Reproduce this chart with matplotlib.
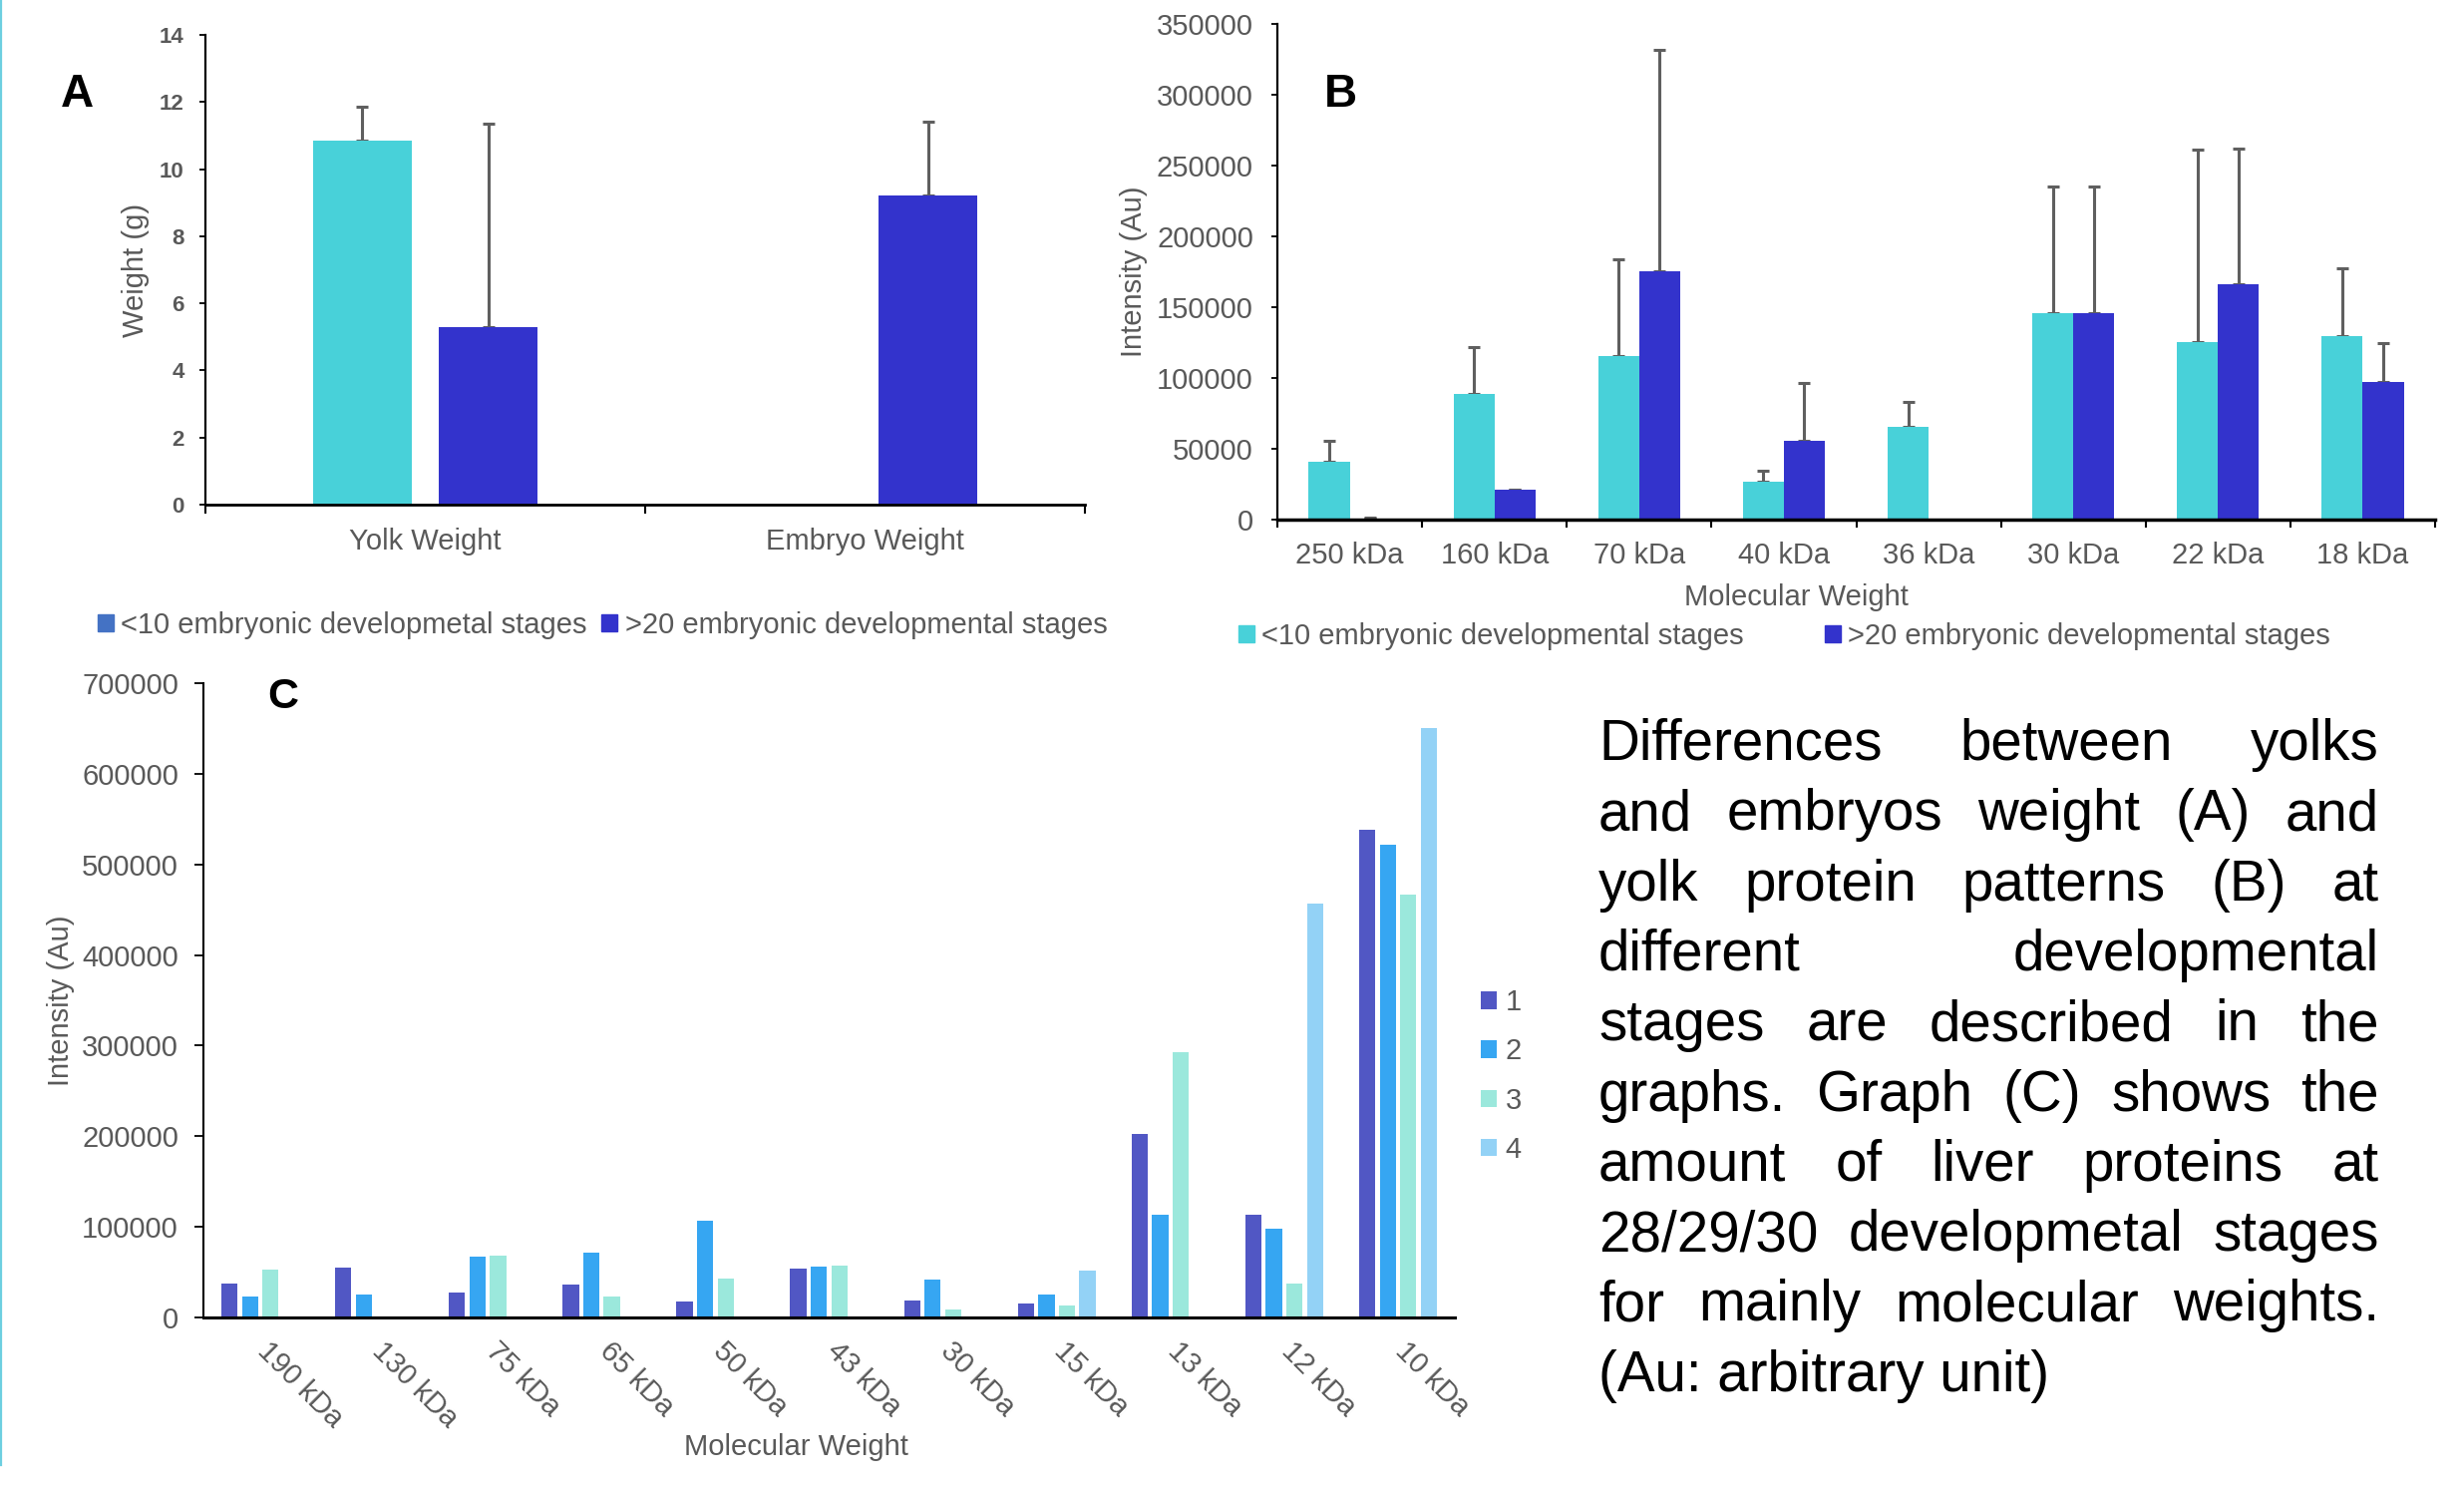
import matplotlib
matplotlib.use("Agg")
import matplotlib.pyplot as plt
import matplotlib.transforms as mtransforms
import numpy as np
from matplotlib.patches import Patch
from matplotlib.lines import Line2D

plt.rcParams['font.family'] = ['Liberation Sans', 'DejaVu Sans']

GRAY = '#595959'
CYAN = '#48D1D9'
BLUE = '#3333CC'
ERR = '#5F5F5F'

# ---- Panel A: yolk and embryo weight ----
weight_groups = ["Yolk Weight", "Embryo Weight"]
weight_early = [10.85, 0.0]
weight_early_err = [1.0, 0.0]
weight_late = [5.3, 9.2]
weight_late_err = [6.05, 2.2]
weight_yticks = [0, 2, 4, 6, 8, 10, 12, 14]

# ---- Panel B: yolk protein bands ----
yolk_bands = ["250 kDa", "160 kDa", "70 kDa", "40 kDa", "36 kDa", "30 kDa", "22 kDa", "18 kDa"]
yolk_early = [40900, 88600, 115700, 26600, 65700, 145700, 125500, 129800]
yolk_early_err = [14400, 32900, 67800, 8200, 17700, 89800, 135600, 47600]
yolk_late = [900, 20800, 175600, 55300, 0, 146000, 166400, 97400]
yolk_late_err = [600, 600, 155800, 41500, 0, 88900, 95300, 27200]
yolk_yticks = [0, 50000, 100000, 150000, 200000, 250000, 300000, 350000]

# ---- Panel C: liver protein bands ----
liver_bands = ["190 kDa", "130 kDa", "75 kDa", "65 kDa", "50 kDa", "43 kDa",
               "30 kDa", "15 kDa", "13 kDa", "12 kDa", "10 kDa"]
liver_s1 = [37900, 54800, 27400, 36700, 17500, 54200, 18700, 15700, 202800, 113700, 538500]
liver_s2 = [23300, 25600, 67000, 71700, 107200, 56500, 41400, 25100, 113700, 98500, 522200]
liver_s3 = [53000, 0, 68200, 22700, 42500, 57700, 8700, 12800, 292600, 37300, 466300]
liver_s4 = [0, 0, 0, 0, 0, 0, 0, 51300, 0, 457000, 650500]
liver_series = ["1", "2", "3", "4"]
liver_colors = ['#5157C4', '#36A6F2', '#9BE8DC', '#93D2F6']
liver_yticks = [0, 100000, 200000, 300000, 400000, 500000, 600000, 700000]

caption_lines = [
    "Differences between yolks",
    "and embryos weight (A) and",
    "yolk protein patterns (B) at",
    "different developmental",
    "stages are described in the",
    "graphs. Graph (C) shows the",
    "amount of liver proteins at",
    "28/29/30 developmetal stages",
    "for mainly molecular weights.",
    "(Au: arbitrary unit)",
]

W, H = 2471, 1494
fig = plt.figure(figsize=(W / 100, H / 100), dpi=100)


def px_axes(left, top, right, bottom):
    return fig.add_axes([left / W, 1 - bottom / H, (right - left) / W, (bottom - top) / H])


def upper_errors(ax, x, y, err):
    x = np.asarray(x, float)
    y = np.asarray(y, float)
    err = np.asarray(err, float)
    m = err > 0
    ax.errorbar(x[m], y[m], yerr=[np.zeros(m.sum()), err[m]], fmt='none',
                ecolor=ERR, elinewidth=2.2, capsize=4.3, capthick=2.2, zorder=1)


def style_spines(ax, xw, yw):
    for s in ('top', 'right'):
        ax.spines[s].set_visible(False)
    ax.spines['bottom'].set_linewidth(xw)
    ax.spines['left'].set_linewidth(yw)
    ax.spines['bottom'].set_zorder(3)


# ---------------- Panel A ----------------
axA = px_axes(206, 35, 1088, 506)
xa = np.arange(len(weight_groups)) + 0.5
wA = 0.2245
offA = 0.143
axA.bar(xa - offA, weight_early, wA, color=CYAN, zorder=2)
axA.bar(xa + offA, weight_late, wA, color=BLUE, zorder=2)
upper_errors(axA, xa - offA, weight_early, weight_early_err)
upper_errors(axA, xa + offA, weight_late, weight_late_err)
axA.set_xlim(0, len(weight_groups))
axA.set_ylim(0, 14)
axA.set_yticks(weight_yticks)
axA.set_yticklabels([str(v) for v in weight_yticks], fontsize=16, fontweight='bold', color=GRAY)
axA.tick_params(axis='y', length=4.3, width=1.3, pad=11, direction='out')
axA.set_xticks(np.arange(len(weight_groups) + 1))
axA.set_xticklabels([])
axA.tick_params(axis='x', which='major', length=6.5, width=1.5, direction='out')
axA.set_xticks(xa, minor=True)
axA.set_xticklabels(weight_groups, minor=True, fontsize=21, color=GRAY)
axA.tick_params(axis='x', which='minor', length=0, pad=16.5)
axA.set_ylabel("Weight (g)", fontsize=21, color=GRAY, va='center')
axA.yaxis.set_label_coords(-0.0794, 0.5)
style_spines(axA, 2.0, 1.6)
axA.legend(handles=[Patch(color='#4472C4', label='<10 embryonic developmetal stages'),
                    Patch(color=BLUE, label='>20 embryonic developmental stages')],
           loc='center left', bbox_to_anchor=(98 / W, 1 - 627 / H),
           bbox_transform=fig.transFigure, ncol=2, frameon=False, fontsize=21,
           labelcolor=GRAY, handlelength=0.55, handleheight=0.55,
           handletextpad=0.25, columnspacing=0.5, borderpad=0, borderaxespad=0)

# ---------------- Panel B ----------------
axB = px_axes(1281, 24, 2442, 521)
xb = np.arange(len(yolk_bands)) + 0.5
wB = 0.283
offB = 0.1415
axB.bar(xb - offB, yolk_early, wB, color=CYAN, zorder=2)
axB.bar(xb + offB, yolk_late, wB, color=BLUE, zorder=2)
upper_errors(axB, xb - offB, yolk_early, yolk_early_err)
upper_errors(axB, xb + offB, yolk_late, yolk_late_err)
axB.set_xlim(0, len(yolk_bands))
axB.set_ylim(0, 350000)
axB.set_yticks(yolk_yticks)
axB.set_yticklabels([str(v) for v in yolk_yticks], fontsize=21, color=GRAY)
axB.tick_params(axis='y', length=4.3, width=1.3, pad=13, direction='out')
axB.set_xticks(np.arange(len(yolk_bands) + 1))
axB.set_xticklabels([])
axB.tick_params(axis='x', which='major', length=5.8, width=1.5, direction='out')
axB.set_xticks(xb, minor=True)
axB.set_xticklabels(yolk_bands, minor=True, fontsize=21, color=GRAY)
axB.tick_params(axis='x', which='minor', length=0, pad=16)
axB.set_ylabel("Intensity (Au)", fontsize=21, color=GRAY, va='center')
axB.yaxis.set_label_coords(-0.124, 0.5)
axB.set_xlabel("Molecular Weight", fontsize=21, color=GRAY, va='center')
axB.xaxis.set_label_coords(0.448, -0.157)
style_spines(axB, 2.5, 1.6)
axB.legend(handles=[Patch(color=CYAN, label='<10 embryonic developmental stages'),
                    Patch(color=BLUE, label='>20 embryonic developmental stages')],
           loc='center left', bbox_to_anchor=(1242 / W, 1 - 638 / H),
           bbox_transform=fig.transFigure, ncol=2, frameon=False, fontsize=21,
           labelcolor=GRAY, handlelength=0.55, handleheight=0.55,
           handletextpad=0.24, columnspacing=2.8, borderpad=0, borderaxespad=0)

# ---------------- Panel C ----------------
axC = px_axes(204, 685, 1459, 1321)
xc = np.arange(len(liver_bands)) + 0.5
wC = 0.143
stepC = 0.1805
for i, (vals, col, name) in enumerate(zip([liver_s1, liver_s2, liver_s3, liver_s4],
                                          liver_colors, liver_series)):
    axC.bar(xc + (i - 1.5) * stepC, vals, wC, color=col, label=name, zorder=2)
axC.set_xlim(0, len(liver_bands))
axC.set_ylim(0, 700000)
axC.set_yticks(liver_yticks)
axC.set_yticklabels([str(v) for v in liver_yticks], fontsize=21, color=GRAY)
axC.tick_params(axis='y', length=6.5, width=1.3, pad=11.5, direction='out')
axC.set_xticks(xc)
axC.set_xticklabels(liver_bands, fontsize=21, color=GRAY, rotation=-45,
                    ha='left', va='top', rotation_mode='anchor')
axC.tick_params(axis='x', length=0, pad=14)
shift = mtransforms.ScaledTranslation(12 / 100, 0, fig.dpi_scale_trans)
for lab in axC.get_xticklabels():
    lab.set_transform(lab.get_transform() + shift)
axC.set_ylabel("Intensity (Au)", fontsize=21, color=GRAY, va='center')
axC.yaxis.set_label_coords(-0.114, 0.5)
axC.set_xlabel("Molecular Weight", fontsize=21, color=GRAY, va='center')
axC.xaxis.set_label_coords(0.474, -0.2044)
style_spines(axC, 2.2, 1.5)
axC.legend(loc='center left', bbox_to_anchor=(1485 / W, 1 - 1079 / H),
           bbox_transform=fig.transFigure, ncol=1, frameon=False, fontsize=21,
           labelcolor=GRAY, handlelength=0.55, handleheight=0.55,
           handletextpad=0.3, labelspacing=0.73, borderpad=0, borderaxespad=0)

# ---------------- Panel letters ----------------
fig.text(77 / W, 1 - 95 / H, "A", fontsize=33, fontweight='bold', ha='center', va='center')
fig.text(1344 / W, 1 - 95 / H, "B", fontsize=33, fontweight='bold', ha='center', va='center')
fig.text(284 / W, 1 - 699 / H, "C", fontsize=31, fontweight='bold', ha='center', va='center')

# Thin accent rule along the left edge
fig.add_artist(Line2D([1 / W, 1 / W], [1 - 1469 / H, 1], color='#6DCFE0', lw=1.6))

# ---------------- Justified caption ----------------
fig.canvas.draw()
renderer = fig.canvas.get_renderer()
cap_left, cap_right = 1603, 2386
base0, lead = 762, 70.3
cap_size = 40.7
for k, line in enumerate(caption_lines):
    y = 1 - (base0 + k * lead) / H
    words = line.split()
    last = (k == len(caption_lines) - 1)
    if last or len(words) == 1:
        fig.text(cap_left / W, y, line, fontsize=cap_size, color='black',
                 ha='left', va='baseline')
        continue
    texts = [fig.text(0, y, w, fontsize=cap_size, color='black', ha='left', va='baseline')
             for w in words]
    widths = [t.get_window_extent(renderer).width for t in texts]
    gap = (cap_right - cap_left - sum(widths)) / (len(words) - 1)
    x = cap_left
    for t, wd in zip(texts, widths):
        t.set_x(x / W)
        x += wd + gap

fig.savefig("out.png", dpi=100)
